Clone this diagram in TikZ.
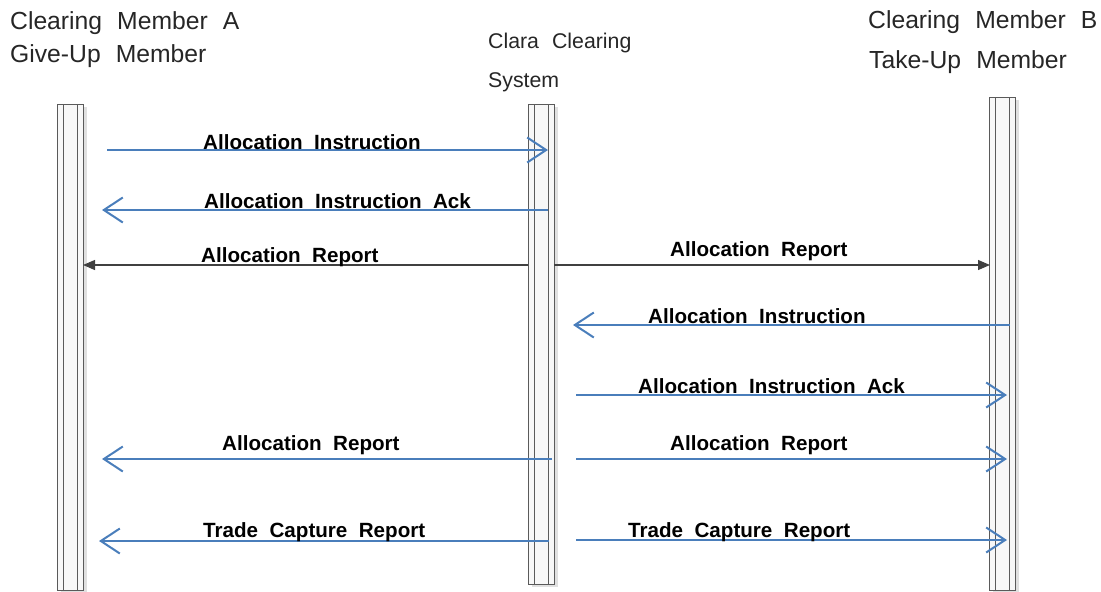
\documentclass[tikz,border=0pt]{standalone}
\usepackage{fontspec}
\setmainfont{Liberation Sans}
\newfontfamily\hdrfont[WordSpace=2.2]{Liberation Sans}
\newfontfamily\lblfont[WordSpace=2.0]{Liberation Sans Bold}
\usetikzlibrary{arrows.meta,shadows}
\definecolor{msgblue}{HTML}{4A7EBB}
\definecolor{bargray}{HTML}{5A5A5A}
\definecolor{rptgray}{HTML}{404040}
\begin{document}
\begin{tikzpicture}[x=1pt,y=-1pt,
  lifebar/.style={draw=bargray,line width=1.1pt,fill=black!3,rectangle,
    minimum width=26pt,inner sep=0pt,anchor=north west,
    drop shadow={shadow xshift=3pt,shadow yshift=-2pt,fill=black!12,opacity=1}},
  innerline/.style={draw=bargray,line width=1.1pt},
  hdr/.style={font=\hdrfont\fontsize{24.7}{27}\selectfont,anchor=base west,inner sep=0pt,text=black!85},
  hdrs/.style={font=\hdrfont\fontsize{21.3}{24}\selectfont,anchor=base west,inner sep=0pt,text=black!85},
  lbl/.style={font=\lblfont\fontsize{20.6}{22}\selectfont,anchor=base west,inner sep=0pt},
  msg/.style={draw=msgblue,line width=2pt,-{Straight Barb[length=19pt,width=25pt,line width=2pt]}},
  rpt/.style={draw=rptgray,line width=1.1pt,-{Triangle[length=12pt,width=10pt]}}
]
\useasboundingbox (0,0) rectangle (1101,592);
% headers
\node[hdr] (ha1) at (10,29) {Clearing Member A};
\node[hdr] (ha2) at (10,62) {Give-Up Member};
\node[hdrs] (hc1) at (488,48) {Clara Clearing};
\node[hdrs] (hc2) at (488,87) {System};
\node[hdr] (hb1) at (868,28) {Clearing Member B};
\node[hdr] (hb2) at (869,68) {Take-Up Member};
% lifelines
\node[lifebar,minimum height=486pt] (A) at (57,104) {};
\node[lifebar,minimum height=480pt] (C) at (528,104) {};
\node[lifebar,minimum height=493pt] (B) at (989,97) {};
\foreach \n in {A,C,B}{
  \draw[innerline] ([xshift=6.5pt]\n.north west) -- ([xshift=6.5pt]\n.south west);
  \draw[innerline] ([xshift=-6.5pt]\n.north east) -- ([xshift=-6.5pt]\n.south east);
}
% endpoints
\coordinate (m1s) at (107,150); \coordinate (m1e) at (548,150);
\coordinate (m2s) at (548,210); \coordinate (m2e) at (102,210);
\coordinate (r1s) at (528,265); \coordinate (r1e) at (83,265);
\coordinate (r2s) at (554,265); \coordinate (r2e) at (990,265);
\coordinate (m4s) at (1010,325); \coordinate (m4e) at (573,325);
\coordinate (m5s) at (576,395); \coordinate (m5e) at (1007,395);
\coordinate (m6s) at (552,459); \coordinate (m6e) at (102,459);
\coordinate (m7s) at (576,459); \coordinate (m7e) at (1007,459);
\coordinate (m8s) at (549,541); \coordinate (m8e) at (99,541);
\coordinate (m9s) at (576,540); \coordinate (m9e) at (1007,540);
% messages
\draw[msg] (m1s) -- (m1e);
\draw[msg] (m2s) -- (m2e);
\draw[rpt] (r1s) -- (r1e);
\draw[rpt] (r2s) -- (r2e);
\draw[msg] (m4s) -- (m4e);
\draw[msg] (m5s) -- (m5e);
\draw[msg] (m6s) -- (m6e);
\draw[msg] (m7s) -- (m7e);
\draw[msg] (m8s) -- (m8e);
\draw[msg] (m9s) -- (m9e);
% labels
\node[lbl] (l1) at (203,149) {Allocation Instruction};
\node[lbl] (l2) at (204,208) {Allocation Instruction Ack};
\node[lbl] (l3) at (201,262) {Allocation Report};
\node[lbl] (l4) at (670,256) {Allocation Report};
\node[lbl] (l5) at (648,323) {Allocation Instruction};
\node[lbl] (l6) at (638,393) {Allocation Instruction Ack};
\node[lbl] (l7) at (222,450) {Allocation Report};
\node[lbl] (l8) at (670,450) {Allocation Report};
\node[lbl] (l9) at (203,537) {Trade Capture Report};
\node[lbl] (l10) at (628,537) {Trade Capture Report};
\end{tikzpicture}
\end{document}
